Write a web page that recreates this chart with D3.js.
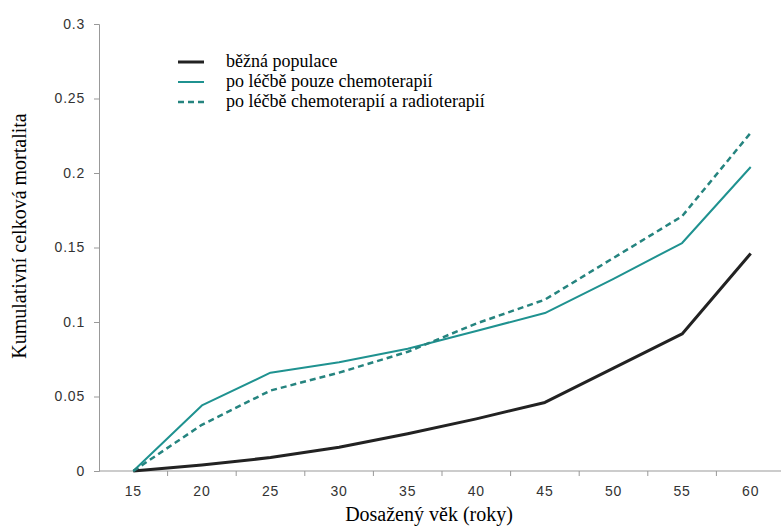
<!DOCTYPE html>
<html lang="cs">
  <head>
    <meta charset="UTF-8" />
    <title>Kumulativní celková mortalita</title>
    <script src="https://d3js.org/d3.v7.min.js"></script>
    <style>
      body { margin: 0; background: #fff; }
      svg { display: block; }
      .num { font-family: "Liberation Sans", Arial, sans-serif; font-size: 14px; fill: #333; letter-spacing: 0.8px; }
      .serif { font-family: "Liberation Serif", "Times New Roman", serif; fill: #000; }
    </style>
  </head>
  <body>
    <script>
      // data
      const ages = [15, 20, 25, 30, 35, 40, 45, 50, 55, 60];
      const populace = [0, 0.004, 0.009, 0.016, 0.025, 0.035, 0.046, 0.069, 0.092, 0.146];
      const chemo = [0, 0.044, 0.066, 0.073, 0.082, 0.094, 0.106, 0.129, 0.153, 0.204];
      const chemoRadio = [0, 0.031, 0.054, 0.066, 0.080, 0.099, 0.115, 0.143, 0.171, 0.227];
      const yTicks = [0, 0.05, 0.1, 0.15, 0.2, 0.25, 0.3];

      const series = [
        { name: "běžná populace", values: populace, color: "#222", width: 3, dash: null },
        { name: "po léčbě pouze chemoterapií", values: chemo, color: "#1f9290", width: 2, dash: null },
        { name: "po léčbě chemoterapií a radioterapií", values: chemoRadio, color: "#25847f", width: 2.5, dash: "6,4" }
      ];

      const width = 781, height = 529;
      const svg = d3.select("body").append("svg")
        .attr("width", width).attr("height", height);

      const x = d3.scaleBand().domain(ages).range([99, 785]);
      const y = d3.scaleLinear().domain([0, 0.3]).range([471, 24]);

      // y axis
      const yAxis = svg.append("g")
        .attr("transform", "translate(99,0)")
        .call(d3.axisLeft(y).tickValues(yTicks).tickSize(5).tickPadding(9)
          .tickFormat(d => d === 0 ? "0" : String(+d.toFixed(2))));
      yAxis.selectAll("line, path").attr("stroke", "#999");
      yAxis.selectAll("text").attr("class", "num").attr("font-family", null).attr("font-size", null);

      // x axis (ticks between categories)
      const xg = svg.append("g").attr("transform", "translate(0,471)");
      xg.append("line").attr("x1", 99).attr("x2", width).attr("stroke", "#999");
      xg.selectAll(".sep").data(ages.slice(1)).join("line")
        .attr("x1", d => x(d)).attr("x2", d => x(d))
        .attr("y1", 0).attr("y2", 5).attr("stroke", "#999");
      xg.selectAll(".lbl").data(ages).join("text")
        .attr("class", "num")
        .attr("x", d => x(d) + x.bandwidth() / 2)
        .attr("y", 25)
        .attr("text-anchor", "middle")
        .text(d => d);

      // lines
      const line = d3.line()
        .x((d, i) => x(ages[i]) + x.bandwidth() / 2)
        .y(d => y(d));
      series.forEach(s => {
        svg.append("path")
          .datum(s.values)
          .attr("d", line)
          .attr("fill", "none")
          .attr("stroke", s.color)
          .attr("stroke-width", s.width)
          .attr("stroke-linejoin", "round")
          .attr("stroke-dasharray", s.dash);
      });

      // legend
      const legend = svg.append("g");
      series.forEach((s, i) => {
        const ly = 62 + i * 20;
        legend.append("line")
          .attr("x1", 178).attr("x2", 204).attr("y1", ly).attr("y2", ly)
          .attr("stroke", s.color).attr("stroke-width", s.width)
          .attr("stroke-dasharray", s.dash);
        legend.append("text").attr("class", "serif")
          .attr("x", 226).attr("y", ly + 5)
          .style("font-size", "18px")
          .text(s.name);
      });

      // axis titles
      svg.append("text").attr("class", "serif")
        .attr("transform", "translate(26,236) rotate(-90)")
        .attr("text-anchor", "middle")
        .style("font-size", "20px")
        .text("Kumulativní celková mortalita");
      svg.append("text").attr("class", "serif")
        .attr("x", 429).attr("y", 521)
        .attr("text-anchor", "middle")
        .style("font-size", "20px")
        .text("Dosažený věk (roky)");
    </script>
  </body>
</html>
